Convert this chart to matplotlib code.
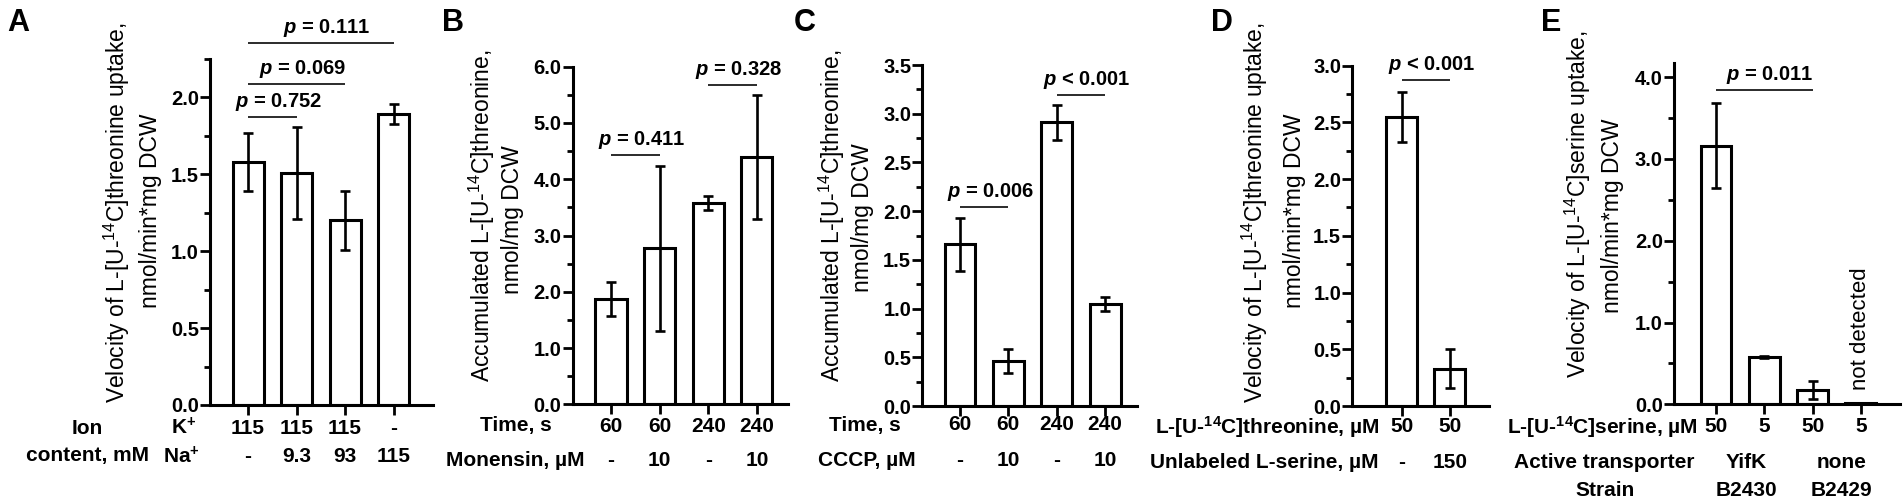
import numpy as np
import matplotlib
matplotlib.use('Agg')
import matplotlib.pyplot as plt
from matplotlib.ticker import MultipleLocator, FormatStrFormatter
import matplotlib.transforms as mtrans

plt.rcParams['font.family'] = ['Liberation Sans', 'DejaVu Sans']
plt.rcParams['mathtext.fontset'] = 'custom'
plt.rcParams['mathtext.rm'] = 'Liberation Sans'
plt.rcParams['mathtext.it'] = 'Liberation Sans:italic:bold'
plt.rcParams['mathtext.bf'] = 'Liberation Sans:bold'

W, H, DPI = 1904, 504, 100

# ---------------- data ----------------
a_vals = [1.58, 1.51, 1.20, 1.89]
a_err = [0.19, 0.30, 0.19, 0.065]
a_row1 = ['115', '115', '115', '-']
a_row2 = ['-', '9.3', '93', '115']

b_vals = [1.87, 2.77, 3.58, 4.39]
b_err = [0.30, 1.47, 0.13, 1.10]
b_row1 = ['60', '60', '240', '240']
b_row2 = ['-', '10', '-', '10']

c_vals = [1.66, 0.46, 2.91, 1.05]
c_err = [0.27, 0.12, 0.18, 0.07]
c_row1 = ['60', '60', '240', '240']
c_row2 = ['-', '10', '-', '10']

d_vals = [2.55, 0.33]
d_err = [0.22, 0.17]
d_row1 = ['50', '50']
d_row2 = ['-', '150']

e_vals = [3.16, 0.575, 0.18, 0.02]
e_err = [0.52, 0.01, 0.11, 0.0]
e_row1 = ['50', '5', '50', '5']
e_row2 = ['YifK', 'none']
e_row3 = ['B2430', 'B2429']

a_sig = [(0, 1, '$p$ = 0.752', 1.874), (0, 2, '$p$ = 0.069', 2.088), (0, 3, '$p$ = 0.111', 2.355)]
b_sig = [(0, 1, '$p$ = 0.411', 4.43), (2, 3, '$p$ = 0.328', 5.67)]
c_sig = [(0, 1, '$p$ = 0.006', 2.046), (2, 3, '$p$ < 0.001', 3.19)]
d_sig = [(0, 1, '$p$ < 0.001', 2.875)]
e_sig = [(0, 2, '$p$ = 0.011', 3.845)]

fig = plt.figure(figsize=(W / DPI, H / DPI), dpi=DPI)

TICK_FS = 14.5
ROW_FS = 15
YL_FS = 16.5
P_FS = 14.5
LET_FS = 22


def fx(x):
    return x / W


def fy(y):
    return 1 - y / H


def make_ax(l, r, top, bottom, ylim, major, minor, xlim):
    ax = fig.add_axes([fx(l), fy(bottom), (r - l) / W, (bottom - top) / H])
    ax.set_ylim(*ylim)
    ax.set_xlim(*xlim)
    for s in ['top', 'right']:
        ax.spines[s].set_visible(False)
    for s in ['left', 'bottom']:
        ax.spines[s].set_linewidth(2.2)
    ax.yaxis.set_major_locator(MultipleLocator(major))
    ax.yaxis.set_minor_locator(MultipleLocator(minor))
    ax.yaxis.set_major_formatter(FormatStrFormatter('%.1f'))
    ax.tick_params(axis='y', which='major', length=7, width=2, pad=1,
                   labelsize=TICK_FS)
    ax.tick_params(axis='y', which='minor', length=4, width=2)
    ax.tick_params(axis='x', which='major', length=7, width=2, labelbottom=False)
    ax.patch.set_alpha(0)
    return ax


def draw_bars(ax, vals, err):
    x = np.arange(len(vals))
    ax.bar(x, vals, width=0.64, facecolor='white', edgecolor='black',
           linewidth=2.2, zorder=2)
    ax.errorbar(x, vals, yerr=err, fmt='none', ecolor='black', elinewidth=1.9,
                capsize=3.8, capthick=1.9, zorder=3)
    ax.set_xticks(x)
    for lb in ax.get_yticklabels():
        lb.set_fontweight('bold')
    return x


def draw_sig(ax, sigs, dx=6, dy=15):
    for i, j, txt, y in sigs:
        ax.plot([i, j], [y, y], color='#1a1a1a', lw=1.3, clip_on=False,
                solid_capstyle='butt')
        ax.annotate(txt, xy=((i + j) / 2, y), xytext=(dx, dy),
                    textcoords='offset pixels', ha='center', va='center',
                    fontsize=P_FS, fontweight='bold', annotation_clip=False)


def row_values(ax, x, labels, ypx, fs=ROW_FS):
    tr = mtrans.blended_transform_factory(ax.transData, fig.transFigure)
    for xi, lab in zip(x, labels):
        ax.text(xi, fy(ypx), lab, transform=tr, ha='center', va='center',
                fontsize=fs, fontweight='bold')


def ftext(xpx, ypx, s, **kw):
    fig.text(fx(xpx), fy(ypx), s, **kw)


def ylabel2(x1, x2, yc1, yc2, l1, l2):
    ftext(x1, yc1, l1, rotation=90, ha='center', va='center', fontsize=YL_FS)
    ftext(x2, yc2, l2, rotation=90, ha='center', va='center', fontsize=YL_FS)


def letter(xpx, ypx, s):
    ftext(xpx, ypx, s, ha='left', va='top', fontsize=LET_FS, fontweight='bold')


# ---------------- Panel A ----------------
axA = make_ax(210, 433, 59, 405, (0, 2.25), 0.5, 0.25, (-0.784, 3.814))
xA = draw_bars(axA, a_vals, a_err)
draw_sig(axA, a_sig)
row_values(axA, xA, a_row1, 428)
row_values(axA, xA, a_row2, 457)
ftext(87, 429, 'Ion', ha='center', va='center', fontsize=ROW_FS, fontweight='bold')
ftext(87, 456, 'content, mM', ha='center', va='center', fontsize=ROW_FS, fontweight='bold')
ftext(184, 428, r'K$^{\mathbf{+}}$', ha='center', va='center', fontsize=ROW_FS, fontweight='bold')
ftext(181, 457, r'Na$^{\mathbf{+}}$', ha='center', va='center', fontsize=ROW_FS, fontweight='bold')
ylabel2(117, 150, 213, 211, r'Velocity of L-[U-$^{14}$C]threonine uptake,', 'nmol/min*mg DCW')
letter(7, 8, 'A')

# ---------------- Panel B ----------------
axB = make_ax(572.7, 788, 66.7, 404.3, (0, 6.0), 1.0, 0.5, (-0.788, 3.64))
xB = draw_bars(axB, b_vals, b_err)
draw_sig(axB, b_sig)
row_values(axB, xB, b_row1, 426)
row_values(axB, xB, b_row2, 460)
ftext(516, 426, 'Time, s', ha='center', va='center', fontsize=ROW_FS, fontweight='bold')
ftext(515, 460, 'Monensin, µM', ha='center', va='center', fontsize=ROW_FS, fontweight='bold')
ylabel2(482, 513, 216, 220, r'Accumulated L-[U-$^{14}$C]threonine,', 'nmol/mg DCW')
letter(442, 8, 'B')

# ---------------- Panel C ----------------
axC = make_ax(922.3, 1137, 65, 406, (0, 3.5), 0.5, 0.25, (-0.78, 3.66))
xC = draw_bars(axC, c_vals, c_err)
draw_sig(axC, c_sig)
row_values(axC, xC, c_row1, 425)
row_values(axC, xC, c_row2, 461)
ftext(865, 425, 'Time, s', ha='center', va='center', fontsize=ROW_FS, fontweight='bold')
ftext(867, 461, 'CCCP, µM', ha='center', va='center', fontsize=ROW_FS, fontweight='bold')
ylabel2(832, 863, 216, 218, r'Accumulated L-[U-$^{14}$C]threonine,', 'nmol/mg DCW')
letter(794, 8, 'C')

# ---------------- Panel D ----------------
axD = make_ax(1352.3, 1489, 65.7, 406, (0, 3.0), 0.5, 0.25, (-1.02, 1.81))
xD = draw_bars(axD, d_vals, d_err)
draw_sig(axD, d_sig)
row_values(axD, xD, d_row1, 427)
row_values(axD, xD, d_row2, 463)
ftext(1379, 427, r'L-[U-$^{\mathbf{14}}$C]threonine, µM', ha='right', va='center',
      fontsize=ROW_FS, fontweight='bold')
ftext(1379, 463, 'Unlabeled L-serine, µM', ha='right', va='center',
      fontsize=ROW_FS, fontweight='bold')
ylabel2(1255, 1295, 213, 211, r'Velocity of L-[U-$^{14}$C]threonine uptake,', 'nmol/min*mg DCW')
letter(1211, 8, 'D')

# ---------------- Panel E ----------------
axE = make_ax(1674, 1900, 63.3, 404.3, (0, 4.17), 1.0, 0.5, (-0.87, 3.81))
xE = draw_bars(axE, e_vals, e_err)
draw_sig(axE, e_sig, dx=5)
axE.annotate('not detected', xy=(xE[3], e_vals[3]), xytext=(0, 13),
             textcoords='offset pixels', rotation=90, ha='center', va='bottom',
             fontsize=16)
row_values(axE, xE, e_row1, 427)
row_values(axE, [0.62, 2.59], e_row2, 462)
row_values(axE, [0.62, 2.59], e_row3, 490)
ftext(1602, 427, r'L-[U-$^{\mathbf{14}}$C]serine, µM', ha='center', va='center',
      fontsize=ROW_FS, fontweight='bold')
ftext(1604, 462, 'Active transporter', ha='center', va='center', fontsize=ROW_FS, fontweight='bold')
ftext(1605, 490, 'Strain', ha='center', va='center', fontsize=ROW_FS, fontweight='bold')
ylabel2(1578, 1613, 204, 216, r'Velocity of L-[U-$^{14}$C]serine uptake,', 'nmol/min*mg DCW')
letter(1541, 8, 'E')

fig.savefig('out.png', dpi=DPI)
